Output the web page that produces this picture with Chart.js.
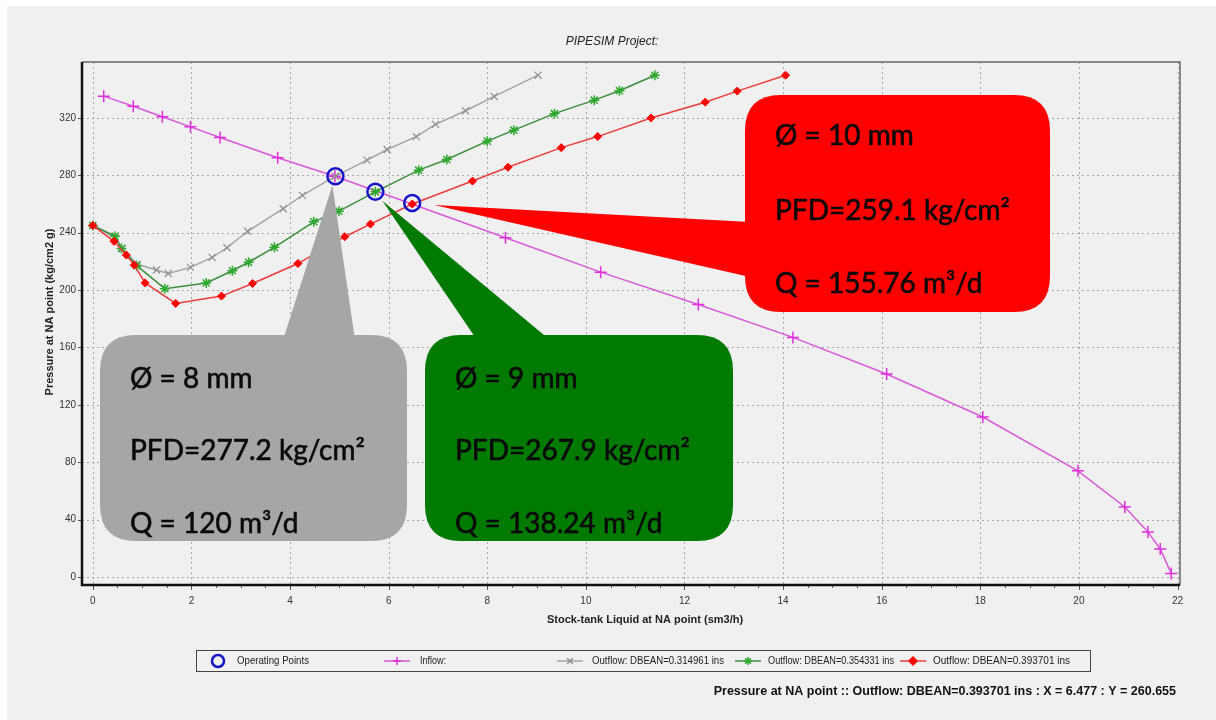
<!DOCTYPE html>
<html>
<head>
<meta charset="utf-8">
<script src="https://cdn.jsdelivr.net/npm/chart.js@4.4.1/dist/chart.umd.min.js"></script>
<style>
  html, body { margin: 0; padding: 0; background: #fff; }
</style>
</head>
<body>
<canvas id="ipr" width="1216" height="720"></canvas>
<script>
// axis ticks
const xTicks = [0, 2, 4, 6, 8, 10, 12, 14, 16, 18, 20, 22];
const yTicks = [0, 40, 80, 120, 160, 200, 240, 280, 320];

// inflow curve (IPR)
const inflowQ = [0.22, 0.82, 1.41, 1.98, 2.58, 3.75, 4.91, 8.37, 10.3, 12.28, 14.2, 16.1, 18.05, 19.98, 20.93, 21.4, 21.65, 21.87];
const inflowP = [335.2, 328.2, 320.8, 313.8, 306.4, 292.2, 279.4, 236.5, 212.5, 190, 167, 141.5, 111.5, 74, 48.8, 31.4, 19.5, 2.5];

// outflow DBEAN=0.314961 ins (8 mm)
const grayQ = [0, 0.45, 0.6, 0.9, 1.29, 1.53, 1.98, 2.42, 2.72, 3.14, 3.86, 4.25, 4.92, 5.56, 5.97, 6.56, 6.95, 7.56, 8.14, 9.03];
const grayP = [245, 236.5, 229, 218, 214, 211.6, 215.8, 222.8, 229.5, 241, 256.7, 266, 279.4, 290.6, 298, 307, 315.5, 325, 335, 349.8];

// outflow DBEAN=0.354331 ins (9 mm)
const greenQ = [0, 0.45, 0.58, 0.89, 1.46, 2.3, 2.83, 3.16, 3.68, 4.48, 4.99, 5.73, 6.61, 7.18, 8.0, 8.54, 9.36, 10.17, 10.68, 11.4];
const greenP = [245, 237.6, 229, 217, 201, 205, 213.5, 219.4, 229.8, 247.6, 255, 268.5, 283.6, 291, 303.8, 311.5, 323, 332.4, 339, 349.8];

// outflow DBEAN=0.393701 ins (10 mm)
const redQ = [0, 0.43, 0.68, 0.84, 1.06, 1.68, 2.61, 3.24, 4.16, 5.11, 5.63, 6.48, 7.7, 8.42, 9.5, 10.24, 11.32, 12.42, 13.07, 14.05];
const redP = [245, 234, 224.4, 217.4, 205, 190.7, 195.8, 204.6, 218.5, 237.2, 246, 260, 276, 285.6, 299.3, 307, 320, 331, 338.7, 349.8];

// operating points
const opQ = [4.92, 5.73, 6.477];
const opP = [279.4, 268.5, 260.655];

// callout texts
const calloutText = [
    ["Ø = 8 mm", "PFD=277.2 kg/cm²", "Q = 120 m³/d"],
    ["Ø = 9 mm", "PFD=267.9 kg/cm²", "Q = 138.24 m³/d"],
    ["Ø = 10 mm", "PFD=259.1 kg/cm²", "Q = 155.76 m³/d"]
];

const legendLabels = ["Operating Points", "Inflow:", "Outflow: DBEAN=0.314961 ins", "Outflow: DBEAN=0.354331 ins", "Outflow: DBEAN=0.393701 ins"];

const toXY = (qs, ps) => qs.map((q, i) => ({ x: q, y: ps[i] }));

const MAGENTA = "#d957d9", GRAY = "#a4a4a4", GREEN = "#3a8f3a", RED = "#ee3b3b", BLUE = "#1414c8";

// background, grid, frame
const framePlugin = {
    id: "frame",
    beforeDraw(chart) {
        const c = chart.ctx;
        const { left, right, top, bottom } = chart.chartArea;
        const xs = chart.scales.x, ys = chart.scales.y;
        c.save();
        c.fillStyle = "#fff";
        c.fillRect(0, 0, chart.width, chart.height);
        c.fillStyle = "#f0f0f0";
        c.fillRect(7, 6, chart.width - 7, chart.height - 6);
        // dotted grid
        c.strokeStyle = "#a6a6a6";
        c.lineWidth = 1;
        c.setLineDash([2, 3]);
        xTicks.forEach(v => {
            const px = Math.round(xs.getPixelForValue(v)) + 0.5;
            c.beginPath(); c.moveTo(px, top); c.lineTo(px, bottom); c.stroke();
        });
        yTicks.forEach(v => {
            const py = Math.round(ys.getPixelForValue(v)) + 0.5;
            c.beginPath(); c.moveTo(left, py); c.lineTo(right, py); c.stroke();
        });
        c.setLineDash([]);
        // ticks
        c.strokeStyle = "#555";
        yTicks.forEach(v => {
            const py = Math.round(ys.getPixelForValue(v)) + 0.5;
            c.beginPath(); c.moveTo(left - 4, py); c.lineTo(left, py); c.stroke();
        });
        for (let v = 0; v <= 22; v += 0.5) {
            const px = Math.round(xs.getPixelForValue(v)) + 0.5;
            const len = v % 2 === 0 ? 5 : 3;
            c.beginPath(); c.moveTo(px, bottom); c.lineTo(px, bottom + len); c.stroke();
        }
        // frame: thin top/right, thick left/bottom
        c.strokeStyle = "#666";
        c.lineWidth = 1.5;
        c.beginPath(); c.moveTo(left, top); c.lineTo(right, top); c.lineTo(right, bottom); c.stroke();
        c.strokeStyle = "#111";
        c.lineWidth = 2.5;
        c.beginPath(); c.moveTo(left, top); c.lineTo(left, bottom); c.lineTo(right, bottom); c.stroke();
        c.restore();
    }
};

function roundBox(c, x, y, w, h, r) {
    c.beginPath();
    c.moveTo(x + r, y);
    c.lineTo(x + w - r, y);
    c.quadraticCurveTo(x + w, y, x + w, y + r);
    c.lineTo(x + w, y + h - r);
    c.quadraticCurveTo(x + w, y + h, x + w - r, y + h);
    c.lineTo(x + r, y + h);
    c.quadraticCurveTo(x, y + h, x, y + h - r);
    c.lineTo(x, y + r);
    c.quadraticCurveTo(x, y, x + r, y);
    c.closePath();
    c.fill();
}

// callout bubbles pointing at the operating points
const calloutPlugin = {
    id: "callouts",
    afterDatasetsDraw(chart) {
        const c = chart.ctx;
        const xs = chart.scales.x, ys = chart.scales.y;
        const tip = i => [xs.getPixelForValue(opQ[i]), ys.getPixelForValue(opP[i])];
        const boxes = [
            { color: "#a6a6a6", x: 100, y: 335, w: 307, h: 206, base: [[283, 340], [355, 340]], off: [-3, 9], tx: 130, ty: [388, 460, 533], mw: [130, 242, 205] },
            { color: "#007a00", x: 425, y: 335, w: 308, h: 206, base: [[477, 340], [550, 340]], off: [7, 9], tx: 455, ty: [388, 460, 533], mw: [130, 242, 215] },
            { color: "#ff0000", x: 745, y: 95, w: 305, h: 217, base: [[750, 222], [750, 277]], off: [22, 2], tx: 775, ty: [145, 220, 293], mw: [145, 246, 215] }
        ];
        c.save();
        boxes.forEach((b, i) => {
            c.fillStyle = b.color;
            roundBox(c, b.x, b.y, b.w, b.h, 36);
            const [px, py] = tip(i);
            c.beginPath();
            c.moveTo(b.base[0][0], b.base[0][1]);
            c.lineTo(px + b.off[0], py + b.off[1]);
            c.lineTo(b.base[1][0], b.base[1][1]);
            c.closePath();
            c.fill();
            c.fillStyle = "#0a0a0a";
            c.strokeStyle = "#0a0a0a";
            c.lineWidth = 0.6;
            c.font = '28px Lato, "Noto Sans", sans-serif';
            c.textAlign = "left";
            c.textBaseline = "alphabetic";
            calloutText[i].forEach((t, k) => {
                c.fillText(t, b.tx, b.ty[k], b.mw[k]);
                c.strokeText(t, b.tx, b.ty[k], b.mw[k]);
            });
        });
        c.restore();
    }
};

// titles, legend box and status line
const textPlugin = {
    id: "texts",
    afterDraw(chart) {
        const c = chart.ctx;
        c.save();
        c.fillStyle = "#222";
        c.textAlign = "center";
        c.textBaseline = "middle";
        c.font = 'italic 12px "Liberation Sans", Arial, sans-serif';
        c.fillText("PIPESIM Project:", 612, 42);
        c.font = 'bold 11px "Liberation Sans", Arial, sans-serif';
        c.fillText("Stock-tank Liquid at NA point (sm3/h)", 645, 620, 245);
        c.save();
        c.translate(50, 312);
        c.rotate(-Math.PI / 2);
        c.fillText("Pressure at NA point (kg/cm2 g)", 0, 0, 256);
        c.restore();

        // legend
        c.strokeStyle = "#444";
        c.lineWidth = 1;
        c.strokeRect(196.5, 650.5, 894, 21);
        const ly = 661;
        const sets = chart.data.datasets;
        const items = [
            { ds: 0, ix: 218, tx: 237, mw: 72 },
            { ds: 4, ix: 397, tx: 420, mw: 26 },
            { ds: 3, ix: 570, tx: 592, mw: 132 },
            { ds: 2, ix: 748, tx: 768, mw: 126 },
            { ds: 1, ix: 913, tx: 933, mw: 150 }
        ];
        c.font = '10px "Liberation Sans", Arial, sans-serif';
        c.textAlign = "left";
        items.forEach((it, k) => {
            const d = sets[it.ds];
            if (it.ds === 0) {
                c.strokeStyle = BLUE; c.lineWidth = 2.5;
                c.beginPath(); c.ellipse(it.ix, ly, 6, 6, 0, 0, Math.PI * 2); c.stroke();
            } else {
                c.strokeStyle = d.borderColor; c.lineWidth = 1.5;
                c.beginPath(); c.moveTo(it.ix - 13, ly); c.lineTo(it.ix + 13, ly); c.stroke();
                c.fillStyle = d.pointBackgroundColor; c.strokeStyle = d.pointBorderColor;
                Chart.helpers.drawPoint(c, {
                    pointStyle: d.pointStyle, radius: 4, rotation: 0, borderWidth: 1.5
                }, it.ix, ly);
            }
            c.fillStyle = "#222";
            c.fillText(legendLabels[k], it.tx, ly, it.mw);
        });

        // status line
        c.font = 'bold 12.5px "Liberation Sans", Arial, sans-serif';
        c.textAlign = "right";
        c.fillStyle = "#111";
        c.fillText("Pressure at NA point :: Outflow: DBEAN=0.393701 ins : X = 6.477 : Y = 260.655", 1176, 692, 464);
        c.restore();
    }
};

new Chart(document.getElementById("ipr"), {
    type: "line",
    data: {
        datasets: [
            {
                label: legendLabels[0],
                data: toXY(opQ, opP),
                showLine: false,
                pointStyle: "circle",
                pointRadius: 8,
                pointBorderWidth: 2.5,
                pointBorderColor: BLUE,
                pointBackgroundColor: "rgba(0,0,0,0)",
                borderColor: BLUE
            },
            {
                label: legendLabels[4],
                data: toXY(redQ, redP),
                borderColor: RED,
                borderWidth: 1.5,
                pointStyle: "rectRot",
                pointRadius: 4,
                pointBackgroundColor: "#ff0000",
                pointBorderColor: "#ff0000",
                pointBorderWidth: 1
            },
            {
                label: legendLabels[3],
                data: toXY(greenQ, greenP),
                borderColor: GREEN,
                borderWidth: 1.5,
                pointStyle: "star",
                pointRadius: 5,
                pointBackgroundColor: "#2ea82e",
                pointBorderColor: "#2ea82e",
                pointBorderWidth: 1.5
            },
            {
                label: legendLabels[2],
                data: toXY(grayQ, grayP),
                borderColor: GRAY,
                borderWidth: 1.5,
                pointStyle: "crossRot",
                pointRadius: 5,
                pointBackgroundColor: "#8e8e8e",
                pointBorderColor: "#8e8e8e",
                pointBorderWidth: 1.2
            },
            {
                label: legendLabels[1],
                data: toXY(inflowQ, inflowP),
                borderColor: MAGENTA,
                borderWidth: 1.5,
                pointStyle: "cross",
                pointRadius: 6,
                pointBackgroundColor: "#e02ee0",
                pointBorderColor: "#e02ee0",
                pointBorderWidth: 1.5
            }
        ]
    },
    plugins: [framePlugin, calloutPlugin, textPlugin],
    options: {
        responsive: false,
        animation: false,
        devicePixelRatio: 1,
        layout: { padding: { left: 0, top: 62, right: 36, bottom: 0 }, autoPadding: false },
        plugins: { legend: { display: false }, tooltip: { enabled: false }, title: { display: false } },
        elements: { line: { tension: 0 } },
        scales: {
            x: {
                type: "linear",
                min: -0.22,
                max: 22.05,
                afterFit: s => { s.height = 135; },
                afterBuildTicks: s => { s.ticks = xTicks.map(v => ({ value: v })); },
                grid: { display: false, drawTicks: false },
                border: { display: false },
                ticks: { padding: 10, color: "#333", font: { family: "Liberation Sans", size: 10 }, autoSkip: false, maxRotation: 0 }
            },
            y: {
                type: "linear",
                min: -5.6,
                max: 359,
                afterFit: s => { s.width = 82; },
                afterBuildTicks: s => { s.ticks = yTicks.map(v => ({ value: v })); },
                grid: { display: false, drawTicks: false },
                border: { display: false },
                ticks: { padding: 6, color: "#333", font: { family: "Liberation Sans", size: 10 }, autoSkip: false }
            }
        }
    }
});
</script>
</body>
</html>
